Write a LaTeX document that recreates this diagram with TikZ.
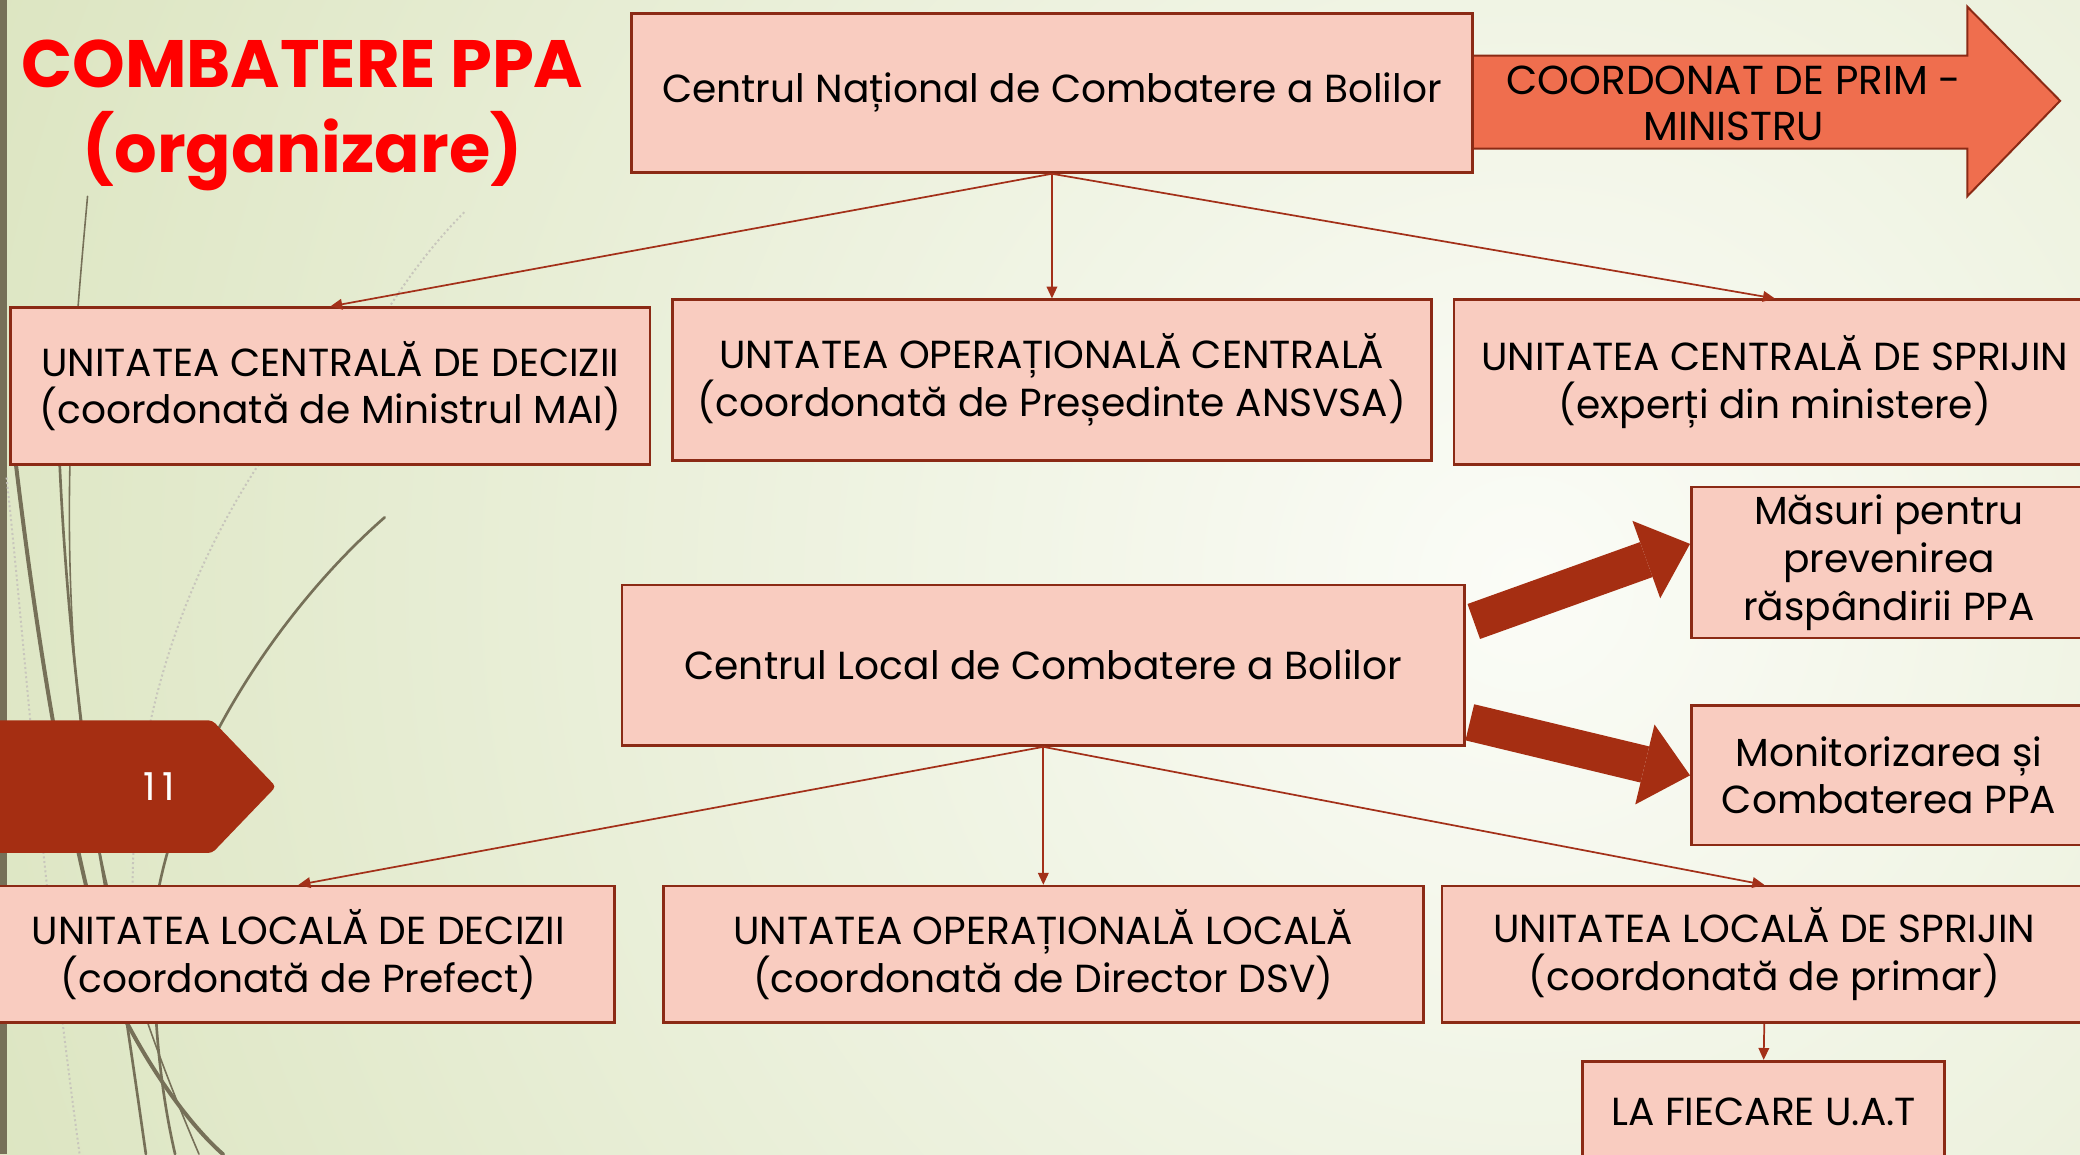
\documentclass[tikz,border=0pt]{standalone}
\usepackage{fontspec}
\setmainfont{Poppins}
\usetikzlibrary{arrows.meta,positioning,calc}

\definecolor{bggreen}{HTML}{DCE5C1}
\definecolor{bglight}{HTML}{FBFCF7}
\definecolor{boxfill}{HTML}{F9CCC0}
\definecolor{boxline}{HTML}{8B2A15}
\definecolor{linkred}{HTML}{A33019}
\definecolor{tabred}{HTML}{A52E12}
\definecolor{coordfill}{HTML}{EF6E4E}
\definecolor{grass}{HTML}{767058}
\definecolor{titlered}{HTML}{FF0000}

\begin{document}
\begin{tikzpicture}[
x=1pt, y=-1pt,
box/.style={draw=boxline, line width=2pt, fill=boxfill, align=center, inner sep=0pt, font=\fontsize{29.5}{36}\selectfont},
link/.style={draw=linkred, line width=1.3pt, -{Triangle[length=9pt,width=8pt]}},
fatarrow/.style={draw=tabred, line width=28pt, -{Triangle[length=35pt,width=62pt,line width=0pt]}},
grassline/.style={draw=grass, line cap=round}
]
    % frame and background
    \useasboundingbox (0,0) rectangle (1568,870);
    \clip (0,0) rectangle (1568,870);
    \fill[bggreen] (0,0) rectangle (1568,870);
    \shade[inner color=bglight, outer color=bggreen] (1150,440) circle (1250);
    \fill[grass] (0,0) rectangle (5,870);

    % grass strands
    \draw[grassline, line width=1.2pt] (66,148) .. controls (56,260) and (40,420) .. (68,600) .. controls (82,700) and (120,800) .. (150,870);
    \draw[grassline, line width=3pt] (12,350) .. controls (30,500) and (55,650) .. (90,760) .. controls (115,810) and (145,850) .. (168,870);
    \draw[grassline, line width=2pt] (290,390) .. controls (210,460) and (140,570) .. (120,668) .. controls (112,730) and (118,810) .. (132,870);
    \draw[grassline, line width=2pt] (45,350) .. controls (50,460) and (62,560) .. (75,643) .. controls (90,730) and (100,800) .. (110,870);
    \draw[grass!40, line width=1.5pt, dotted] (350,160) .. controls (310,200) and (280,250) .. (255,300);
    \draw[grass!40, line width=1.5pt, dotted] (195,350) .. controls (130,450) and (100,560) .. (100,668);
    \draw[grass!40, line width=1.5pt, dotted] (5,360) .. controls (20,500) and (30,650) .. (60,870);

    % title
    \node[font=\fontsize{50.5}{64}\bfseries\selectfont, text=titlered, align=center] (title) at (228,87) {COMBATERE PPA\\(organizare)};

    % top level
    \draw[draw=boxline, line width=1.5pt, fill=coordfill] (1100,42) -- (1483,42) -- (1483,5) -- (1553,76) -- (1483,148) -- (1483,112) -- (1100,112) -- cycle;
    \node[font=\fontsize{30.5}{35}\selectfont, align=center] (prim) at (1307,78) {COORDONAT DE PRIM -\\MINISTRU};
    \node[box, minimum width=634, minimum height=120] (cnc) at (793,70) {Centrul Național de Combatere a Bolilor};

    \node[box, minimum width=482, minimum height=118] (ucd) at (249,291) {UNITATEA CENTRALĂ DE DECIZII\\(coordonată de Ministrul MAI)};
    \node[box, minimum width=572, minimum height=121] (uoc) at (793,286.5) {UNTATEA OPERAȚIONALĂ CENTRALĂ\\(coordonată de Președinte ANSVSA)};
    \node[box, minimum width=484, minimum height=124] (ucs) at (1338,288) {UNITATEA CENTRALĂ DE SPRIJIN\\(experți din ministere)};

    \draw[link] (cnc.south) -- (ucd.north);
    \draw[link] (cnc.south) -- (uoc.north);
    \draw[link] (cnc.south) -- (ucs.north);

    % local level
    \node[box, minimum width=298, minimum height=114] (mas) at (1424,424) {Măsuri pentru\\prevenirea\\răspândirii PPA};
    \node[box, minimum width=635, minimum height=121] (clc) at (786.5,501.5) {Centrul Local de Combatere a Bolilor};
    \node[box, minimum width=298, minimum height=105] (mon) at (1424,584.5) {Monitorizarea și\\Combaterea PPA};

    \draw[fatarrow] ($(clc.east)+(6,-33)$) -- ([yshift=14pt]mas.west);
    \draw[fatarrow] ($(clc.east)+(3,43)$) -- (mon.west);

    \node[box, minimum width=476, minimum height=103] (uld) at (225,719.5) {UNITATEA LOCALĂ DE DECIZII\\(coordonată de Prefect)};
    \node[box, minimum width=573, minimum height=103] (uol) at (786.5,719.5) {UNTATEA OPERAȚIONALĂ LOCALĂ\\(coordonată de Director DSV)};
    \node[box, minimum width=486, minimum height=103] (uls) at (1330,719.5) {UNITATEA LOCALĂ DE SPRIJIN\\(coordonată de primar)};
    \node[box, minimum width=273, minimum height=76] (uat) at (1329.5,838) {LA FIECARE U.A.T};

    \draw[link] (clc.south) -- (uld.north);
    \draw[link] (clc.south) -- (uol.north);
    \draw[link] (clc.south) -- (uls.north);
    \draw[link] (uls.south) -- (uat.north);

    % page tab
    \fill[tabred, rounded corners=3pt] (-5,543) -- (160,543) -- (208,593) -- (160,643) -- (-5,643) -- cycle;
    \node[text=white, font=\fontsize{29}{30}\selectfont] (page) at (120,593) {1\,1};

\end{tikzpicture}
\end{document}
